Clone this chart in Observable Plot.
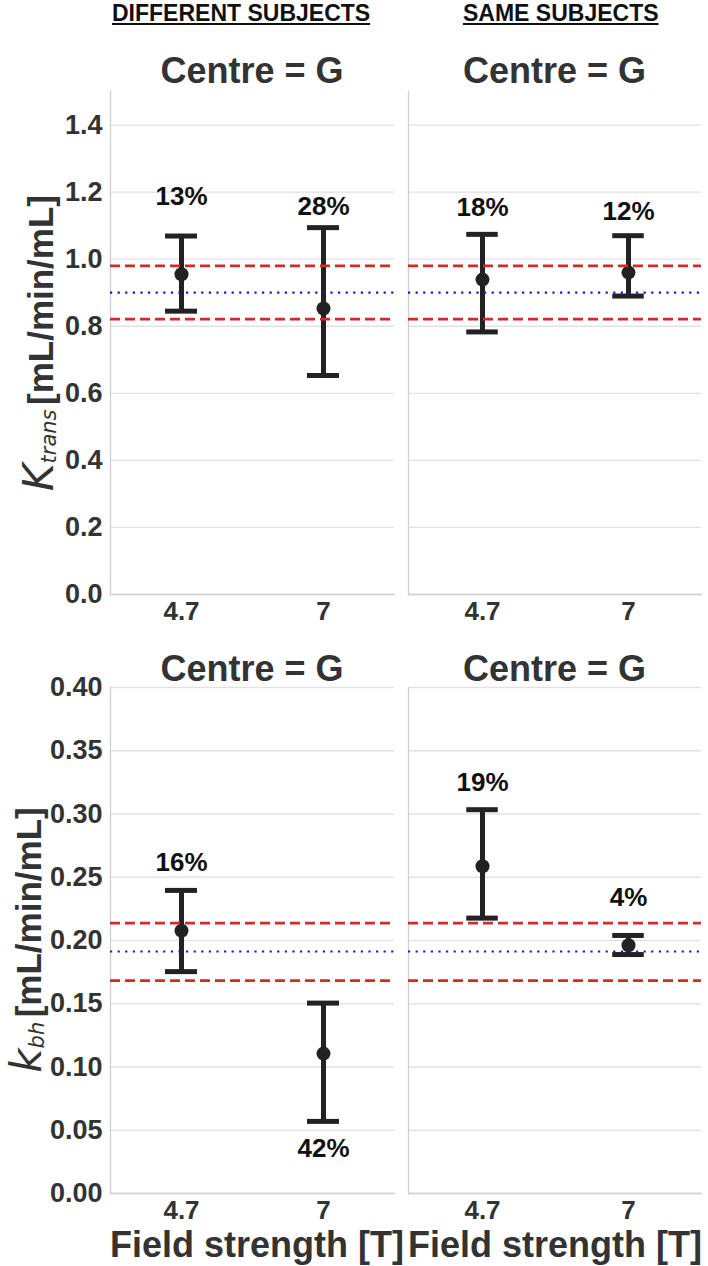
<!DOCTYPE html>
<html>
<head>
<meta charset="utf-8">
<script src="https://cdn.jsdelivr.net/npm/d3@7"></script>
<script src="https://cdn.jsdelivr.net/npm/@observablehq/plot@0.6"></script>
<style>
  html, body { margin: 0; padding: 0; background: #fff; }
  #wrap { position: relative; width: 708px; height: 1266px; overflow: hidden; font-family: "Liberation Sans", Arial, sans-serif; color: #333; }
  .abs { position: absolute; }
  .hdr { font-size: 23px; font-weight: bold; line-height: 1; color: #111; text-decoration: underline; text-decoration-thickness: 2px; text-underline-offset: 2px; white-space: nowrap; }
  .ctr { font-size: 36px; font-weight: bold; line-height: 1; text-align: center; white-space: nowrap; color: #333; }
  .xl { font-size: 36px; font-weight: bold; line-height: 1; text-align: center; white-space: nowrap; color: #333; }
  .yl { white-space: nowrap; transform: translate(-50%, -50%) rotate(-90deg); color: #333; line-height: 1; }
  .yl .m { font-family: "DejaVu Sans", sans-serif; font-style: italic; font-weight: normal; font-size: 42px; }
  .yl .s { font-family: "DejaVu Sans", sans-serif; font-style: italic; font-weight: normal; font-size: 21px; vertical-align: -0.15em; }
  .yl .b { font-weight: bold; font-size: 35px; }
</style>
</head>
<body>
<div id="wrap"></div>
<script>
// ---------- data ----------
const fields = ["4.7", "7"];

// Ktrans, different subjects
const ktDiffMean = [0.955, 0.853];
const ktDiffLo   = [0.845, 0.653];
const ktDiffHi   = [1.069, 1.094];
const ktDiffCV   = ["13%", "28%"];
const ktDiffLabelY = [1.186, 1.158];

// Ktrans, same subjects
const ktSameMean = [0.939, 0.960];
const ktSameLo   = [0.783, 0.890];
const ktSameHi   = [1.074, 1.070];
const ktSameCV   = ["18%", "12%"];
const ktSameLabelY = [1.154, 1.143];

const ktRefMid  = [0.900];
const ktRefBand = [0.821, 0.980];
const ktTicks   = [0, 0.2, 0.4, 0.6, 0.8, 1.0, 1.2, 1.4];

// kbh, different subjects
const kbDiffMean = [0.2077, 0.1106];
const kbDiffLo   = [0.1754, 0.0570];
const kbDiffHi   = [0.2396, 0.1505];
const kbDiffCV   = ["16%", "42%"];
const kbDiffLabelY = [0.2613, 0.0355];

// kbh, same subjects
const kbSameMean = [0.2587, 0.1963];
const kbSameLo   = [0.2177, 0.1889];
const kbSameHi   = [0.3034, 0.2040];
const kbSameCV   = ["19%", "4%"];
const kbSameLabelY = [0.3246, 0.2335];

const kbRefMid  = [0.1913];
const kbRefBand = [0.1683, 0.2137];
const kbTicks   = [0, 0.05, 0.10, 0.15, 0.20, 0.25, 0.30, 0.35, 0.40];

// ---------- drawing ----------
const wrap = document.getElementById("wrap");

function panel(o) {
  const rows = fields.map((f, i) => ({field: f, mean: o.mean[i], lo: o.lo[i], hi: o.hi[i], cv: o.cv[i], ly: o.ly[i]}));
  const bw = (o.width - o.mL - o.mR) / 2;
  const capInset = (bw - 32) / 2;
  const ink = "#222";
  const marks = [
    Plot.gridY(o.ticks, {stroke: "#e2e2e2", strokeOpacity: 1, strokeWidth: 1.3}),
    Plot.frame({anchor: "left", stroke: "#cfcfcf", strokeWidth: 1.3}),
    Plot.frame({anchor: "bottom", stroke: "#cfcfcf", strokeWidth: 1.3}),
    Plot.axisX({tickSize: 0, tickPadding: 7, fontSize: 26, fontWeight: "bold", fill: "#333", label: null}),
    Plot.ruleX(rows, {x: "field", y1: "lo", y2: "hi", stroke: ink, strokeWidth: 5}),
    Plot.tickY(rows, {x: "field", y: "hi", stroke: ink, strokeWidth: 5, insetLeft: capInset, insetRight: capInset}),
    Plot.tickY(rows, {x: "field", y: "lo", stroke: ink, strokeWidth: 5, insetLeft: capInset, insetRight: capInset}),
    Plot.dot(rows, {x: "field", y: "mean", r: 7, fill: ink}),
    Plot.ruleY(o.refBand, {stroke: "#d42a2a", strokeWidth: 2.7, strokeDasharray: "10,5"}),
    Plot.ruleY(o.refMid, {stroke: "#1a1acc", strokeWidth: 2.2, strokeDasharray: "2.2,5.4"}),
    Plot.text(rows, {x: "field", y: "ly", text: "cv", fontSize: 26, fontWeight: "bold", fill: "#111"})
  ];
  if (o.showY) {
    marks.push(Plot.axisY({ticks: o.ticks, tickFormat: o.fmt, tickSize: 0, tickPadding: 8, fontSize: 27, fontWeight: "bold", fill: "#333", label: null}));
  }
  const chart = Plot.plot({
    width: o.width, height: o.height,
    marginLeft: o.mL, marginRight: o.mR, marginTop: o.mT, marginBottom: o.mB,
    style: {fontFamily: "Liberation Sans, Arial, sans-serif", color: "#333", background: "transparent", overflow: "visible"},
    x: {type: "band", domain: fields, padding: 0},
    y: {domain: o.domain, axis: o.showY ? undefined : null},
    marks
  });
  chart.style.position = "absolute";
  chart.style.left = o.left + "px";
  chart.style.top = o.top + "px";
  wrap.appendChild(chart);
}

const f1 = d3.format(".1f"), f2 = d3.format(".2f");
// top row
panel({left: 0, top: 0, width: 400, height: 640, mL: 110, mR: 6, mT: 91, mB: 46, domain: [0, 1.5], ticks: ktTicks, fmt: f1, showY: true,
  mean: ktDiffMean, lo: ktDiffLo, hi: ktDiffHi, cv: ktDiffCV, ly: ktDiffLabelY, refMid: ktRefMid, refBand: ktRefBand});
panel({left: 400, top: 0, width: 308, height: 640, mL: 8, mR: 7, mT: 91, mB: 46, domain: [0, 1.5], ticks: ktTicks, fmt: f1, showY: false,
  mean: ktSameMean, lo: ktSameLo, hi: ktSameHi, cv: ktSameCV, ly: ktSameLabelY, refMid: ktRefMid, refBand: ktRefBand});
// bottom row
panel({left: 0, top: 640, width: 400, height: 626, mL: 110, mR: 6, mT: 47, mB: 73, domain: [0, 0.40], ticks: kbTicks, fmt: f2, showY: true,
  mean: kbDiffMean, lo: kbDiffLo, hi: kbDiffHi, cv: kbDiffCV, ly: kbDiffLabelY, refMid: kbRefMid, refBand: kbRefBand});
panel({left: 400, top: 640, width: 308, height: 626, mL: 8, mR: 7, mT: 47, mB: 73, domain: [0, 0.40], ticks: kbTicks, fmt: f2, showY: false,
  mean: kbSameMean, lo: kbSameLo, hi: kbSameHi, cv: kbSameCV, ly: kbSameLabelY, refMid: kbRefMid, refBand: kbRefBand});

// ---------- text ----------
function addDiv(cls, html, css) {
  const d = document.createElement("div");
  d.className = "abs " + cls;
  d.innerHTML = html;
  Object.assign(d.style, css);
  wrap.appendChild(d);
  return d;
}
addDiv("hdr", "DIFFERENT SUBJECTS", {left: "112px", top: "2px"});
addDiv("hdr", "SAME SUBJECTS", {left: "463px", top: "2px"});
addDiv("ctr", "Centre = G", {left: "110px", width: "284px", top: "53px"});
addDiv("ctr", "Centre = G", {left: "408px", width: "293px", top: "53px"});
addDiv("ctr", "Centre = G", {left: "110px", width: "284px", top: "651px"});
addDiv("ctr", "Centre = G", {left: "408px", width: "293px", top: "651px"});
addDiv("xl", "Field strength [T]", {left: "110px", width: "284px", top: "1227px"});
addDiv("xl", "Field strength [T]", {left: "408px", width: "293px", top: "1227px"});
addDiv("yl", '<span class="m">K</span><span class="s">trans</span> <span class="b">[mL/min/mL]</span>', {left: "39px", top: "343px"});
addDiv("yl", '<span class="m">k</span><span class="s">bh</span> <span class="b">[mL/min/mL]</span>', {left: "27px", top: "940px"});
</script>
</body>
</html>
